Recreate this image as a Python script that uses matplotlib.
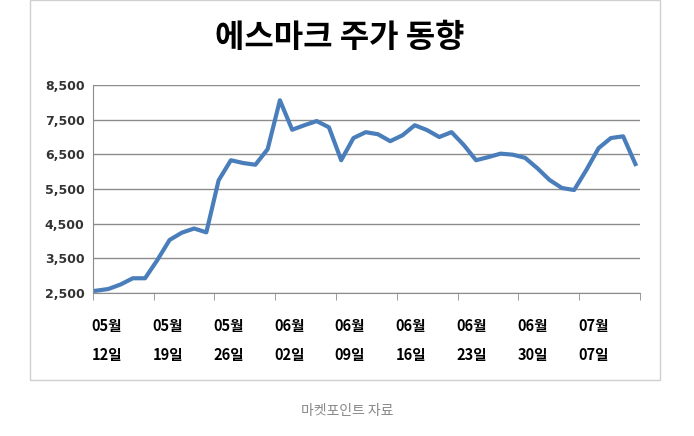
import matplotlib
matplotlib.use("Agg")
import matplotlib.pyplot as plt
from matplotlib.patches import Rectangle

plt.rcParams["font.family"] = "Noto Sans CJK KR"

# daily closing prices, 05/12 - 07/14
prices = [2566, 2615, 2745, 2925, 2925, 3450, 4030, 4240, 4360, 4250,
          5750, 6330, 6250, 6200, 6650, 8060, 7210, 7340, 7460, 7280,
          6330, 6970, 7140, 7080, 6880, 7050, 7340, 7200, 7000, 7140,
          6770, 6330, 6420, 6520, 6490, 6400, 6100, 5760, 5530, 5470,
          6050, 6680, 6970, 7020, 6220]
week_labels = ["05월\n\n12일", "05월\n\n19일", "05월\n\n26일", "06월\n\n02일",
               "06월\n\n09일", "06월\n\n16일", "06월\n\n23일", "06월\n\n30일",
               "07월\n\n07일"]
yticks = [2500, 3500, 4500, 5500, 6500, 7500, 8500]

fig = plt.figure(figsize=(6.94, 4.36), dpi=100)
fig.patches.append(Rectangle((30 / 694, 1 - 380 / 436), 630 / 694, 380 / 436,
                             transform=fig.transFigure, fill=False,
                             edgecolor="#d0d0d0", linewidth=1))
ax = fig.add_axes([0.1336, 0.328, 0.7885, 0.477])

ax.plot(range(len(prices)), prices, color="#4a7ebb", linewidth=3,
        solid_joinstyle="round")

ax.set_ylim(2500, 8500)
ax.set_yticks(yticks)
ax.set_yticklabels([f"{v:,}" for v in yticks], fontsize=9, fontfamily="DejaVu Sans",
                   fontweight="bold", color="#333333")
ax.yaxis.grid(True, color="#8c8c8c", linewidth=1)
ax.set_axisbelow(True)

step = 4.96
x0 = -0.27
ax.set_xlim(x0, x0 + step * 9)
ax.set_xticks([x0 + step * k for k in range(10)], minor=True)
ax.set_xticks([x0 + step * k + 1.15 for k in range(9)])
ax.set_xticklabels(week_labels, fontsize=10.5, fontweight="bold", linespacing=0.9)
ax.tick_params(axis="x", which="major", length=0, pad=18)
ax.tick_params(axis="x", which="minor", length=5, color="#8c8c8c")
ax.tick_params(axis="y", length=0, pad=6)

for s in ["top", "right"]:
    ax.spines[s].set_visible(False)
for s in ["left", "bottom"]:
    ax.spines[s].set_color("#8c8c8c")

fig.text(0.49, 0.913, "에스마크 주가 동향", ha="center", va="center",
         fontsize=23, fontweight="bold")
fig.text(0.5, 0.058, "마켓포인트 자료", ha="center", va="center",
         fontsize=10, color="#888888")

fig.savefig("out.png", dpi=100)
